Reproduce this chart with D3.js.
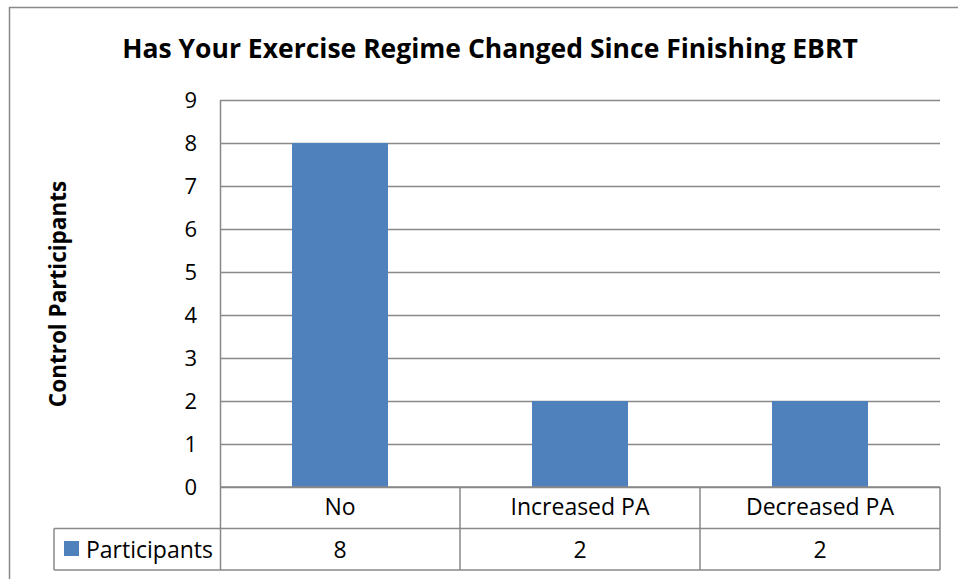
<!DOCTYPE html>
<html>
<head>
<meta charset="utf-8">
<script src="https://cdn.jsdelivr.net/npm/d3@7"></script>
<style>
  body { margin: 0; background: #fff; }
  text { font-family: "Open Sans", sans-serif; fill: #000; }
</style>
</head>
<body>
<div id="chart"></div>
<script>
(function () {
    // chart data
    var categories = ["No", "Increased PA", "Decreased PA"];
    var participants = [8, 2, 2];
    var seriesName = "Participants";
    var yTicks = [0, 1, 2, 3, 4, 5, 6, 7, 8, 9];
    var title = "Has Your Exercise Regime Changed Since Finishing EBRT";
    var yTitle = "Control Participants";

    var width = 958, height = 579;
    var barColor = "#4f81bd";
    var lineColor = "#898989";

    var left = 220, right = 940, top = 100, bottom = 487;
    var rowH = 41.5;

    var svg = d3.select("#chart").append("svg")
        .attr("width", width)
        .attr("height", height);

    // outer chart border (runs off the right/bottom edge)
    svg.append("rect")
        .attr("x", 9.5).attr("y", 7.5)
        .attr("width", 1000).attr("height", 1000)
        .attr("fill", "#fff")
        .attr("stroke", lineColor)
        .attr("stroke-width", 1.5);

    var x = d3.scaleBand()
        .domain(categories)
        .range([left, right])
        .padding(0);

    var y = d3.scaleLinear()
        .domain([0, 9])
        .range([bottom, top]);

    // gridlines
    svg.append("g").selectAll("line")
        .data(yTicks)
        .enter().append("line")
        .attr("x1", left).attr("x2", right)
        .attr("y1", function (d) { return Math.round(y(d)) + 0.5; })
        .attr("y2", function (d) { return Math.round(y(d)) + 0.5; })
        .attr("stroke", lineColor)
        .attr("stroke-width", 1.3);

    // bars
    var barW = x.bandwidth() * 0.4;
    svg.append("g").selectAll("rect")
        .data(participants)
        .enter().append("rect")
        .attr("x", function (d, i) { return x(categories[i]) + (x.bandwidth() - barW) / 2; })
        .attr("y", function (d) { return y(d); })
        .attr("width", barW)
        .attr("height", function (d) { return y(0) - y(d); })
        .attr("fill", barColor);

    // y tick labels
    svg.append("g").selectAll("text")
        .data(yTicks)
        .enter().append("text")
        .attr("x", 197)
        .attr("y", function (d) { return y(d) + 8; })
        .attr("text-anchor", "end")
        .style("font-size", "22px")
        .text(function (d) { return d; });

    // y axis line
    svg.append("line")
        .attr("x1", left + 0.5).attr("x2", left + 0.5)
        .attr("y1", top).attr("y2", bottom + rowH * 2)
        .attr("stroke", lineColor).attr("stroke-width", 1.5);

    // data table
    var tbl = svg.append("g");
    var r1 = bottom, r2 = bottom + rowH, r3 = bottom + rowH * 2;
    [r1, r2, r3].forEach(function (yy, i) {
        tbl.append("line")
            .attr("x1", i === 0 ? left : 54).attr("x2", right)
            .attr("y1", yy).attr("y2", yy)
            .attr("stroke", lineColor).attr("stroke-width", 1.5);
    });
    tbl.append("line")
        .attr("x1", 54).attr("x2", 54)
        .attr("y1", r2).attr("y2", r3)
        .attr("stroke", lineColor).attr("stroke-width", 1.5);
    categories.forEach(function (c) {
        tbl.append("line")
            .attr("x1", x(c) + x.bandwidth()).attr("x2", x(c) + x.bandwidth())
            .attr("y1", r1).attr("y2", r3)
            .attr("stroke", lineColor).attr("stroke-width", 1.5);
    });

    tbl.selectAll(".cat")
        .data(categories)
        .enter().append("text")
        .attr("class", "cat")
        .attr("x", function (d) { return x(d) + x.bandwidth() / 2; })
        .attr("y", r1 + 28)
        .attr("text-anchor", "middle")
        .style("font-size", "23px")
        .text(function (d) { return d; });

    tbl.selectAll(".val")
        .data(participants)
        .enter().append("text")
        .attr("class", "val")
        .attr("x", function (d, i) { return x(categories[i]) + x.bandwidth() / 2; })
        .attr("y", r2 + 29)
        .attr("text-anchor", "middle")
        .style("font-size", "23px")
        .text(function (d) { return d; });

    // legend key in table
    tbl.append("rect")
        .attr("x", 64).attr("y", 541)
        .attr("width", 15).attr("height", 15)
        .attr("fill", barColor);
    tbl.append("text")
        .attr("x", 86).attr("y", r2 + 29)
        .style("font-size", "23px")
        .text(seriesName);

    // title
    svg.append("text")
        .attr("x", 490).attr("y", 58)
        .attr("text-anchor", "middle")
        .style("font-size", "26.5px")
        .style("font-weight", "bold")
        .text(title);

    // y axis title
    svg.append("text")
        .attr("transform", "translate(66,294) rotate(-90)")
        .attr("text-anchor", "middle")
        .style("font-size", "22.5px")
        .style("font-weight", "bold")
        .text(yTitle);
})();
</script>
</body>
</html>
